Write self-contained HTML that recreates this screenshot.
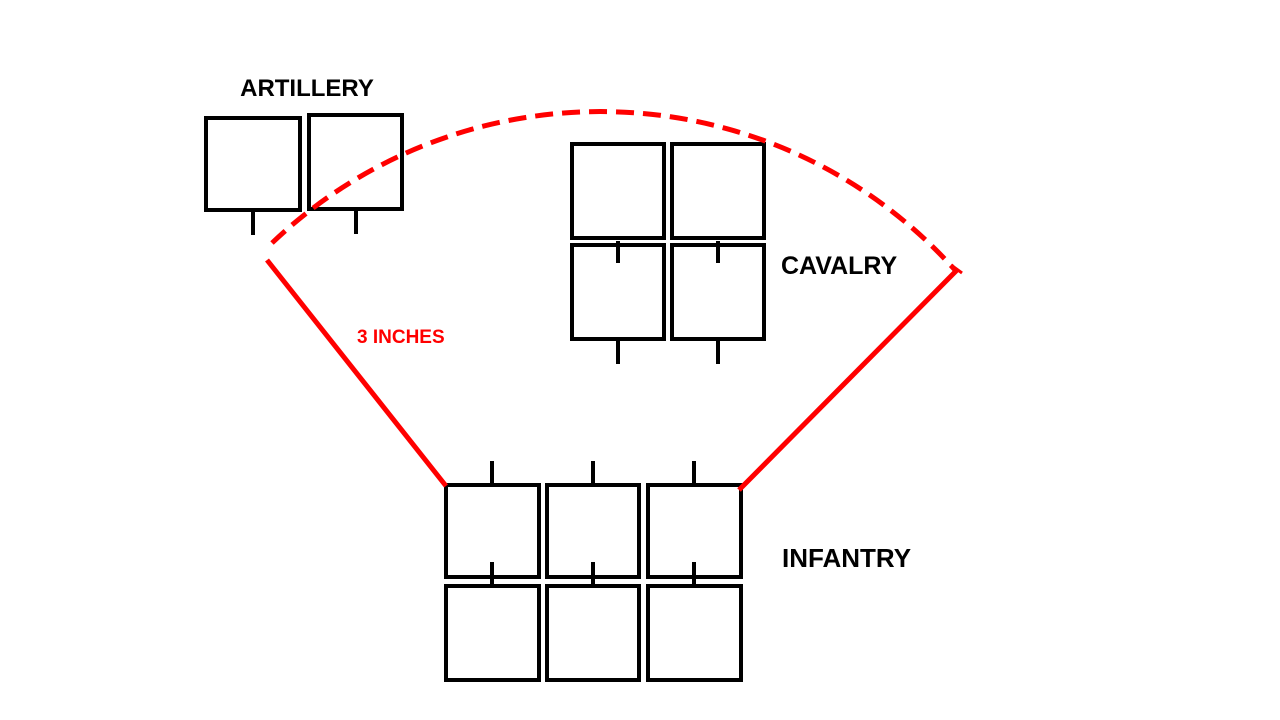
<!DOCTYPE html>
<html><head><style>
html,body{margin:0;padding:0;background:#fff;}
svg{display:block}
text{font-family:"Liberation Sans",sans-serif;font-weight:bold}
</style></head><body>
<svg width="1280" height="720" viewBox="0 0 1280 720" xmlns="http://www.w3.org/2000/svg">
<g fill="none" stroke="#000" stroke-width="4">
<rect x="206" y="118" width="94" height="92"/>
<rect x="309" y="115" width="93" height="94"/>
<line x1="253" y1="210" x2="253" y2="235"/>
<line x1="356" y1="209" x2="356" y2="234"/>
<rect x="572" y="144" width="92" height="94"/>
<rect x="672" y="144" width="92" height="94"/>
<rect x="572" y="245" width="92" height="94"/>
<rect x="672" y="245" width="92" height="94"/>
<line x1="618" y1="241" x2="618" y2="263"/>
<line x1="718" y1="241" x2="718" y2="263"/>
<line x1="618" y1="340" x2="618" y2="364"/>
<line x1="718" y1="340" x2="718" y2="364"/>
<rect x="446" y="485" width="93" height="92"/>
<rect x="547" y="485" width="92" height="92"/>
<rect x="648" y="485" width="93" height="92"/>
<rect x="446" y="586" width="93" height="94"/>
<rect x="547" y="586" width="92" height="94"/>
<rect x="648" y="586" width="93" height="94"/>
<line x1="492" y1="461" x2="492" y2="485"/>
<line x1="593" y1="461" x2="593" y2="485"/>
<line x1="694" y1="461" x2="694" y2="485"/>
<line x1="492" y1="562" x2="492" y2="586"/>
<line x1="593" y1="562" x2="593" y2="586"/>
<line x1="694" y1="562" x2="694" y2="586"/>
</g>
<g fill="none" stroke="#f00" stroke-width="5">
<path d="M272 243 A476 476 0 0 1 955 270" stroke-dasharray="18 9"/>
<line x1="267" y1="260" x2="446" y2="486"/>
<line x1="739" y1="490" x2="958" y2="269"/>
<line x1="951" y1="265" x2="962" y2="273" stroke-width="3"/>
</g>
<text x="307" y="96" font-size="24" text-anchor="middle">ARTILLERY</text>
<text x="781" y="274" font-size="25">CAVALRY</text>
<text x="782" y="567" font-size="26">INFANTRY</text>
<text x="357" y="343" font-size="19" fill="#f00">3 INCHES</text>
</svg>
</body></html>
